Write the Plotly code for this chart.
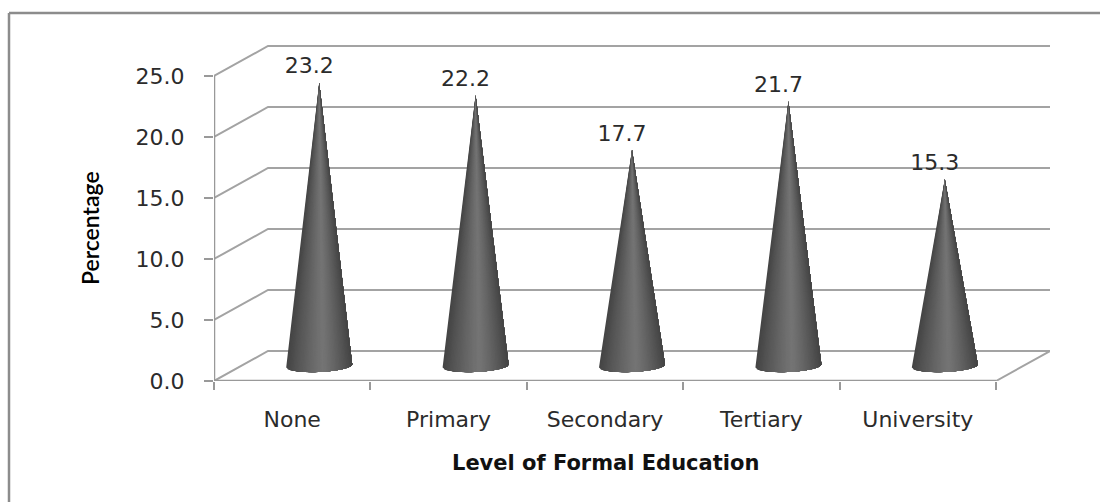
import numpy as np
import plotly.graph_objects as go

# Survey results by education level
categories = ["None", "Primary", "Secondary", "Tertiary", "University"]
values = [23.2, 22.2, 17.7, 21.7, 15.3]
y_ticks = [0, 5, 10, 15, 20, 25]
y_tick_labels = ["0.0", "5.0", "10.0", "15.0", "20.0", "25.0"]

# Plot box in pixels and the scale of each axis
W, H = 1100, 502
LEFT, RIGHT, TOP, BOTTOM = 214, 1050, 44, 381
PX_PER_CAT = 156.4
PX_PER_PCT = 12.2

# Oblique offset of the back wall, in axis units
DEPTH_X = 54 / PX_PER_CAT
DEPTH_Y = 30 / PX_PER_PCT

GRID = "#a3a3a3"
AXIS = "#999999"
TEXT = "#2b2b2b"
FRAME = "#8c8c8c"
N_CAT = len(categories)

fig = go.Figure()


def add_lines(xs, ys, color, width):
    fig.add_trace(go.Scatter(x=xs, y=ys, mode="lines", cliponaxis=False, hoverinfo="skip",
                             line=dict(color=color, width=width)))


# Side wall and back wall gridlines
grid_x, grid_y = [], []
for t in y_ticks:
    grid_x += [0, DEPTH_X, N_CAT + DEPTH_X, None]
    grid_y += [t, t + DEPTH_Y, t + DEPTH_Y, None]
add_lines(grid_x, grid_y, GRID, 2)

# Right edge of the floor, then the two front axis lines
add_lines([N_CAT, N_CAT + DEPTH_X], [0, DEPTH_Y], GRID, 2)
add_lines([0, 0], [0, max(y_ticks)], AXIS, 2.5)
add_lines([0, N_CAT], [0, 0], AXIS, 2.5)

# Each cone is built from overlapping fans: every layer covers the rest of the
# visible face, so neighbouring shades blend without gaps between them
N_SLICES = 48
RADIUS_X = 33 / PX_PER_CAT
RADIUS_Y = 6 / PX_PER_PCT
TILT = 1.5 / PX_PER_PCT
centers = [i + 0.5 + DEPTH_X / 2 for i in range(N_CAT)]
base_y = DEPTH_Y / 2
u_edges = np.linspace(0, 1, N_SLICES + 1)
angles = np.pi + np.arccos(1 - 2 * u_edges)


def slice_color(u):
    # u runs 0..1 across the visible face; the highlight sits just right of the middle
    peak = 0.56
    d = abs(u - peak) / (peak if u < peak else 1 - peak)
    g = int(round(116 - 48 * d ** 1.2))
    return f"rgb({g},{g},{g})"


for k in range(N_SLICES):
    arc = angles[k:]
    xs, ys = [], []
    for cx, v in zip(centers, values):
        xs += list(cx + RADIUS_X * np.cos(arc)) + [cx, None]
        ys += list(base_y + RADIUS_Y * np.sin(arc) + TILT * np.cos(arc)) + [base_y + v, None]
    u = (u_edges[k] + u_edges[k + 1]) / 2
    fig.add_trace(go.Scatter(x=xs, y=ys, mode="lines", fill="toself", fillcolor=slice_color(u),
                             line=dict(width=0), hoverinfo="skip", cliponaxis=False))

# Value labels above the cone tips
fig.add_trace(go.Scatter(
    x=[c - 10 / PX_PER_CAT for c in centers],
    y=[base_y + v + 15 / PX_PER_PCT for v in values],
    mode="text",
    text=[f"{v:.1f}" for v in values],
    textposition="middle center",
    textfont=dict(family="DejaVu Sans", size=22, color=TEXT),
    cliponaxis=False,
    hoverinfo="skip",
))

# Frame along the top and left of the chart area, expressed in paper coordinates
plot_w, plot_h = RIGHT - LEFT, BOTTOM - TOP
frame_x = (9 - LEFT) / plot_w
frame_y = (BOTTOM - 13) / plot_h
frame_right = (W - LEFT) / plot_w
frame_bottom = (BOTTOM - H) / plot_h
fig.add_shape(type="line", xref="paper", yref="paper", x0=frame_x, x1=frame_right, y0=frame_y, y1=frame_y,
              line=dict(color=FRAME, width=2.5))
fig.add_shape(type="line", xref="paper", yref="paper", x0=frame_x, x1=frame_x, y0=frame_bottom, y1=frame_y,
              line=dict(color=FRAME, width=2.5))

# Axis titles
fig.add_annotation(xref="paper", yref="paper", x=(605 - LEFT) / plot_w, y=(BOTTOM - 463) / plot_h,
                   xanchor="center", yanchor="middle",
                   text="<b>Level of Formal Education</b>", showarrow=False,
                   font=dict(family="DejaVu Sans", size=21, color="#111111"))
fig.add_annotation(xref="paper", yref="paper", x=(90 - LEFT) / plot_w, y=(BOTTOM - 228) / plot_h,
                   xanchor="center", yanchor="middle",
                   text="Percentage", textangle=-90, showarrow=False,
                   font=dict(family="Lato", size=23, color="#000000", weight=600))

fig.update_layout(
    width=W, height=H,
    margin=dict(l=LEFT, r=W - RIGHT, t=TOP, b=H - BOTTOM, autoexpand=False),
    paper_bgcolor="white", plot_bgcolor="white",
    showlegend=False,
    xaxis=dict(
        range=[0, plot_w / PX_PER_CAT],
        tickmode="array",
        tickvals=[i + 0.5 for i in range(N_CAT)],
        ticktext=categories,
        ticks="",
        ticklabelstandoff=23,
        tickfont=dict(family="DejaVu Sans", size=22, color=TEXT),
        minor=dict(tickmode="array", tickvals=list(range(N_CAT + 1)), ticks="outside", ticklen=8,
                   tickwidth=2, tickcolor=AXIS),
        showgrid=False, zeroline=False, showline=False,
    ),
    yaxis=dict(
        range=[0, plot_h / PX_PER_PCT],
        tickmode="array",
        tickvals=y_ticks,
        ticktext=y_tick_labels,
        ticks="outside", ticklen=9, tickwidth=2, tickcolor=AXIS,
        ticklabelstandoff=15,
        tickfont=dict(family="DejaVu Sans", size=22, color=TEXT),
        showgrid=False, zeroline=False, showline=False,
    ),
)

fig.write_html("out.html")
